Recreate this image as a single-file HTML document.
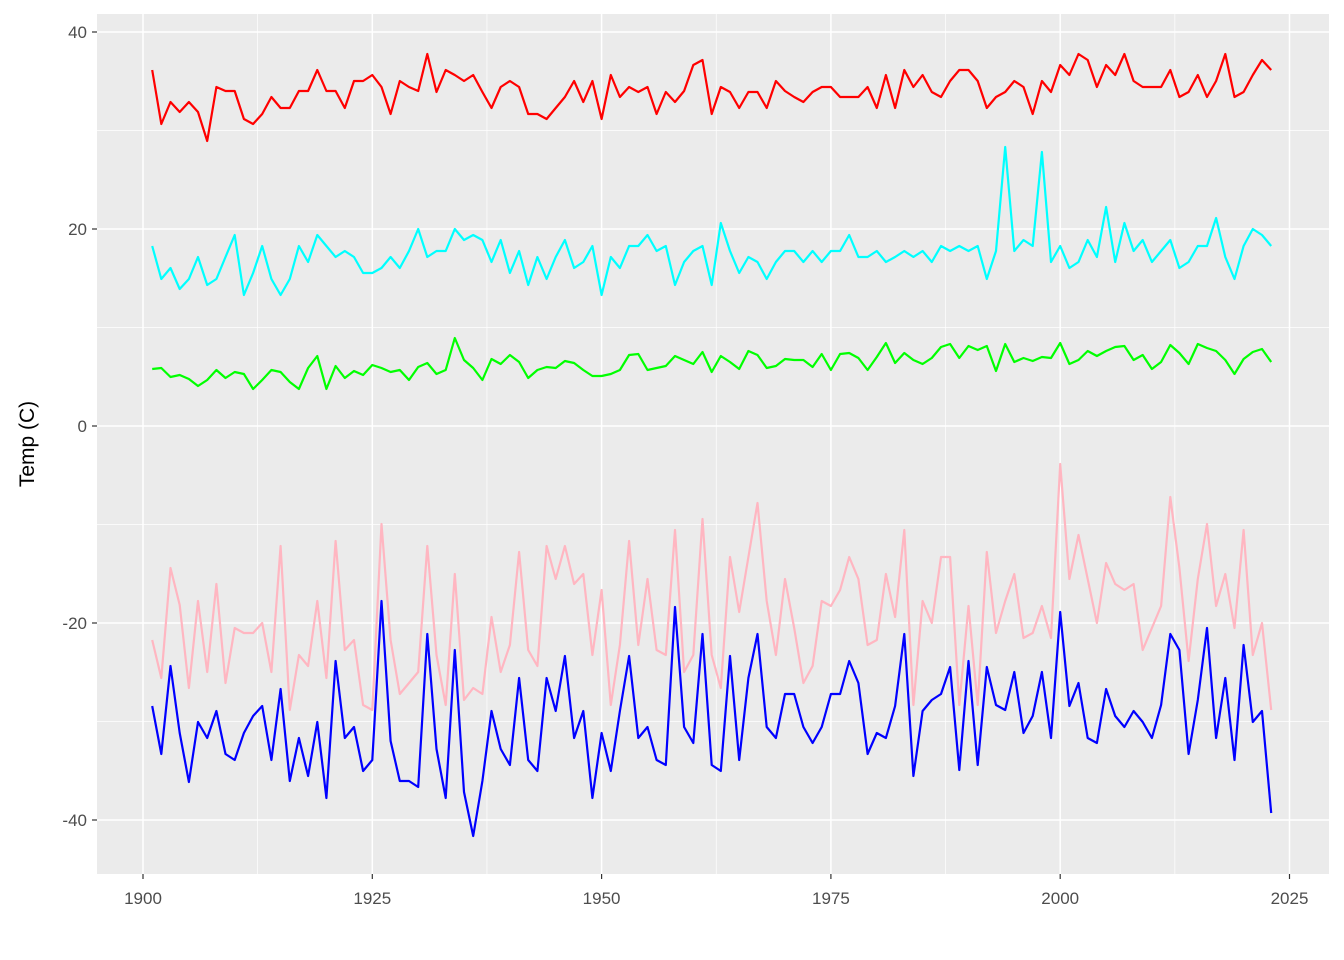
<!DOCTYPE html>
<html><head><meta charset="utf-8"><style>
html,body{margin:0;padding:0;background:#fff;}
svg{display:block;font-family:"Liberation Sans",sans-serif;}
</style></head><body>
<svg id="s" width="1344" height="960" xmlns="http://www.w3.org/2000/svg">
<rect x="0" y="0" width="1344" height="960" fill="#fff"/>
<rect x="97" y="14" width="1232" height="860" fill="#EBEBEB"/>
<g id="grid"></g>
<g id="lines" fill="none" stroke-width="2.2" stroke-linejoin="round"></g>
<g id="axes" fill="#4D4D4D" font-size="17"></g>
<text transform="translate(34,444) rotate(-90)" text-anchor="middle" font-size="21" fill="#000">Temp (C)</text>
</svg>
<script>
var NS="http://www.w3.org/2000/svg";
function el(p,t,a,txt){var e=document.createElementNS(NS,t);for(var k in a)e.setAttribute(k,a[k]);if(txt!==undefined)e.textContent=txt;document.getElementById(p).appendChild(e);return e;}
function X(y){return 143+(y-1900)*9.172;}
function Y(v){return 426-v*9.85;}
// minor grid
for(var yr=1887.5;yr<=2040;yr+=25){var x=X(yr);if(x>97&&x<1329)el("grid","line",{x1:x,x2:x,y1:14,y2:874,stroke:"#fff","stroke-width":0.7});}
[-50,-30,-10,10,30].forEach(function(v){var y=Y(v);if(y>14&&y<874)el("grid","line",{x1:97,x2:1329,y1:y,y2:y,stroke:"#fff","stroke-width":0.7});});
for(var yr=1900;yr<=2025;yr+=25){var x=X(yr);el("grid","line",{x1:x,x2:x,y1:14,y2:874,stroke:"#fff","stroke-width":1.5});
 el("axes","line",{x1:x,x2:x,y1:874,y2:879,stroke:"#333","stroke-width":1.2});
 el("axes","text",{x:x,y:904,"text-anchor":"middle"},yr);}
[-40,-20,0,20,40].forEach(function(v){var y=Y(v);el("grid","line",{x1:97,x2:1329,y1:y,y2:y,stroke:"#fff","stroke-width":1.5});
 el("axes","line",{x1:92,x2:97,y1:y,y2:y,stroke:"#333","stroke-width":1.2});
 el("axes","text",{x:87,y:y+6,"text-anchor":"end"},v);});
var D={
"#FF0000":[70,124,102,112,102,112,141,87,91,91,119,124,114,97,108,108,91,91,70,91,91,108,81,81,75,87,114,81,87,91,54,92,70,75,81,75,92,108,87,81,87,114,114,119,108,97,81,102,81,119,75,97,87,92,87,114,92,102,91,65,60,114,87,92,108,92,92,108,81,91,97,102,92,87,87,97,97,97,87,108,75,108,70,87,75,92,97,81,70,70,81,108,97,92,81,87,114,81,92,65,75,54,60,87,65,75,54,81,87,87,87,70,97,92,75,97,81,54,97,92,75,60,70],
"#00FFFF":[246,279,268,289,279,257,285,279,257,235,295,273,246,279,295,279,246,262,235,246,257,251,257,273,273,268,257,268,251,229,257,251,251,229,240,235,240,262,240,273,251,285,257,279,257,240,268,262,246,295,257,268,246,246,235,251,246,285,262,251,246,285,223,251,273,257,262,279,262,251,251,262,251,262,251,251,235,257,257,251,262,257,251,257,251,262,246,251,246,251,246,279,251,147,251,240,246,152,262,246,268,262,240,257,207,262,223,251,240,262,251,240,268,262,246,246,218,257,279,246,229,235,246],
"#00FF00":[369,368,377,375,379,386,380,370,378,372,374,389,380,370,372,382,389,368,356,389,366,378,371,375,365,368,372,370,380,367,363,374,370,338,360,368,380,359,364,355,362,378,370,367,368,361,363,370,376,376,374,370,355,354,370,368,366,356,360,364,352,372,356,362,369,351,355,368,366,359,360,360,367,354,370,354,353,358,370,357,343,363,353,360,364,358,347,344,358,346,350,346,371,344,362,358,361,357,358,343,364,360,351,356,351,347,346,360,355,369,362,345,353,364,344,348,351,360,374,359,352,349,362],
"#FFB6C1":[640,678,568,605,688,601,672,584,683,628,633,633,623,672,546,710,655,666,601,678,541,650,640,705,710,524,640,694,683,672,546,655,705,574,700,688,694,617,672,645,552,650,666,546,579,546,584,574,655,590,705,645,541,645,579,650,655,530,672,655,519,655,688,557,612,557,503,601,655,579,628,683,666,601,606,590,557,579,645,640,574,617,530,705,601,623,557,557,705,606,705,552,633,601,574,638,633,606,638,464,579,535,579,623,563,584,590,584,650,628,606,497,568,661,579,524,606,574,628,530,655,623,710],
"#0000FF":[706,754,666,733,782,722,738,711,754,760,733,716,706,760,689,781,738,776,722,798,661,738,727,771,760,601,741,781,781,787,634,749,798,650,792,836,781,711,749,765,678,760,771,678,711,656,738,711,798,733,771,711,656,738,727,760,765,607,727,743,634,765,771,656,760,678,634,727,738,694,694,727,743,727,694,694,661,683,754,733,738,706,634,776,711,700,694,667,770,661,765,667,705,710,672,733,716,672,738,612,706,683,738,743,689,716,727,711,722,738,705,634,650,754,700,628,738,678,760,645,722,711,813]
};
for(var c in D){var pts=D[c].map(function(v,i){return X(1901+i).toFixed(1)+","+v;}).join(" ");
 el("lines","polyline",{points:pts,stroke:c});}
</script>
</body></html>
